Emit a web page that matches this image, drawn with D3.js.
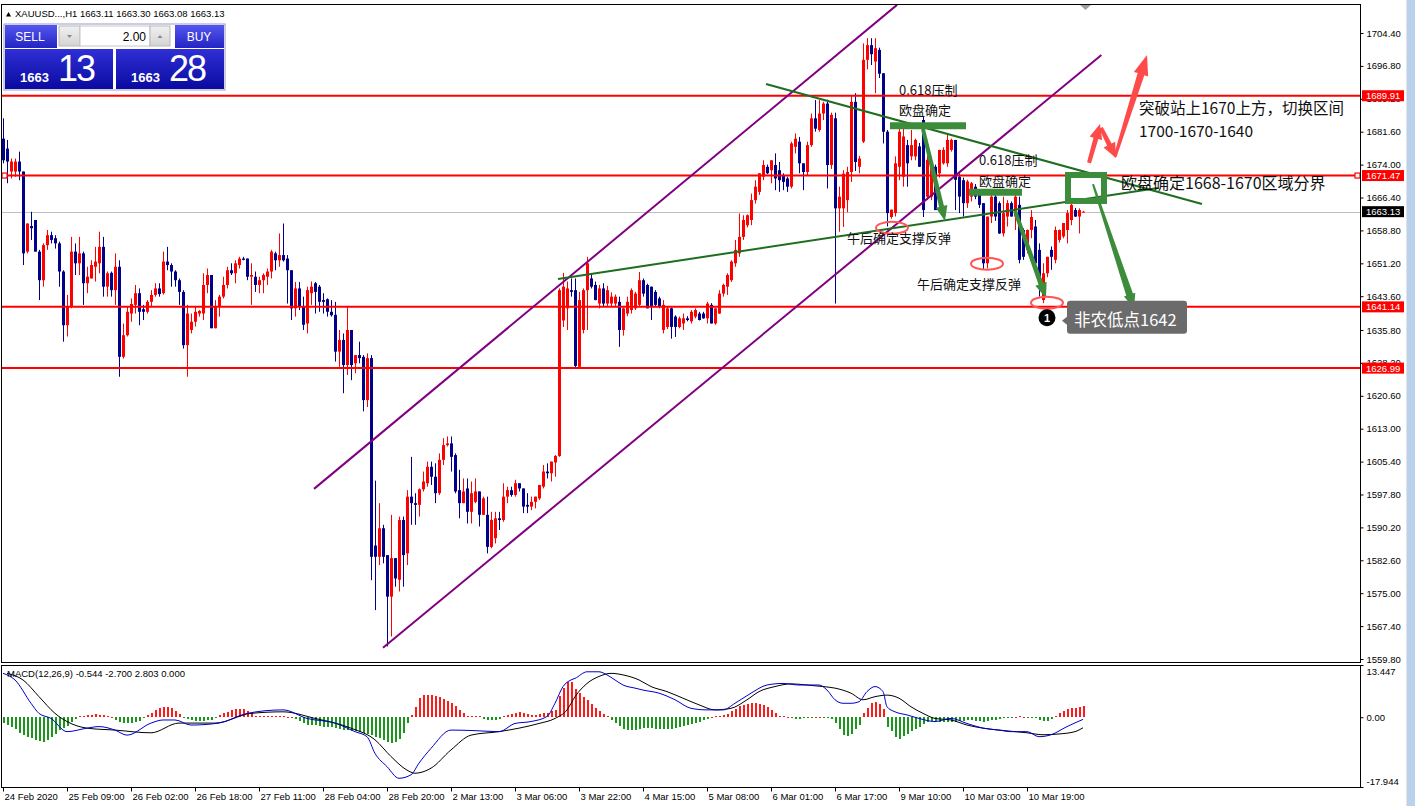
<!DOCTYPE html>
<html><head><meta charset="utf-8">
<script src="https://cdn.jsdelivr.net/npm/d3@7"></script>
<style>html,body{margin:0;padding:0;background:#fff;}svg{display:block;}</style>
</head><body>
<svg id="c" width="1415" height="806"></svg>
<script>
// ---------------- DATA ----------------
// hourly bars [open, high, low, close]
const ohlc = [
[1680.0,1684.7,1674.3,1675.0],[1677.7,1679.7,1669.7,1674.7],[1672.4,1675.4,1670.8,1674.7],[1672.4,1675.4,1671.2,1674.7],[1674.7,1677.0,1670.4,1672.4],
[1672.4,1672.4,1650.8,1653.5],[1653.9,1660.4,1653.5,1660.4],[1659.8,1663.1,1656.6,1659.3],[1661.2,1661.2,1653.9,1653.9],[1653.9,1654.3,1642.7,1647.3],
[1647.3,1655.8,1645.8,1655.4],[1655.4,1658.9,1654.3,1657.7],[1657.7,1658.5,1655.8,1656.6],[1657.0,1657.7,1654.6,1655.8],[1655.8,1656.2,1645.8,1649.3],
[1649.3,1649.6,1633.1,1636.9],[1636.9,1643.9,1634.3,1641.2],[1641.2,1657.3,1640.8,1653.9],[1653.9,1655.8,1648.5,1651.2],[1651.2,1657.3,1648.5,1653.5],
[1653.5,1653.9,1641.6,1646.6],[1646.6,1650.4,1644.3,1648.1],[1647.7,1651.9,1647.7,1650.8],[1650.4,1655.0,1647.0,1651.6],[1651.2,1658.5,1648.9,1655.0],
[1655.0,1657.3,1643.5,1645.8],[1645.8,1649.3,1643.5,1648.9],[1649.0,1649.3,1643.5,1645.0],[1645.0,1653.5,1641.6,1650.4],[1650.4,1651.9,1625.0,1629.6],
[1629.6,1637.3,1629.2,1634.6],[1634.6,1641.2,1634.3,1640.0],[1639.6,1643.1,1637.7,1641.8],[1641.6,1646.2,1639.6,1644.3],[1644.3,1645.4,1636.9,1640.0],
[1640.6,1641.6,1638.1,1640.0],[1640.0,1642.7,1639.6,1642.3],[1642.3,1645.0,1641.2,1643.9],[1643.9,1646.6,1643.5,1645.4],[1645.4,1646.6,1643.5,1644.1],
[1644.3,1653.9,1644.0,1651.6],[1651.6,1655.0,1649.6,1650.8],[1650.8,1651.2,1645.8,1649.3],[1649.3,1649.6,1645.8,1647.3],[1647.3,1647.7,1641.6,1644.6],
[1644.6,1645.0,1631.5,1632.3],[1632.3,1641.6,1625.0,1639.6],[1635.8,1639.6,1635.0,1637.7],[1637.7,1641.2,1636.6,1640.0],[1639.6,1640.4,1638.9,1640.2],
[1639.6,1648.9,1638.1,1646.2],[1646.2,1650.0,1644.3,1648.5],[1648.5,1648.5,1636.2,1636.2],[1636.2,1642.7,1636.2,1641.2],[1641.2,1643.9,1638.9,1643.5],
[1643.5,1648.1,1643.1,1646.2],[1646.2,1650.4,1645.4,1649.6],[1649.6,1651.2,1648.5,1648.9],[1648.9,1651.9,1646.6,1651.2],[1650.8,1652.7,1650.0,1652.3],
[1652.3,1652.7,1651.9,1652.0],[1652.3,1652.3,1647.3,1648.1],[1648.1,1651.2,1641.6,1648.5],[1648.1,1649.3,1644.6,1646.2],[1646.2,1648.1,1644.3,1647.3],
[1647.3,1648.9,1644.3,1648.5],[1648.1,1650.0,1646.2,1649.3],[1649.3,1654.3,1647.7,1653.9],[1653.5,1653.9,1649.6,1651.9],[1651.9,1658.1,1650.4,1653.1],
[1653.1,1660.4,1651.6,1651.9],[1652.3,1653.1,1641.9,1649.6],[1649.6,1649.6,1638.1,1640.8],[1640.8,1646.9,1638.9,1645.4],[1645.4,1646.9,1640.4,1641.2],
[1641.2,1643.5,1635.8,1637.0],[1637.3,1645.8,1635.0,1645.0],[1644.3,1647.0,1641.6,1645.8],[1646.6,1646.9,1639.6,1644.6],[1645.8,1646.2,1640.0,1642.3],
[1642.7,1644.3,1639.6,1642.3],[1642.9,1643.1,1638.9,1640.0],[1640.0,1642.7,1638.9,1639.2],[1639.3,1642.3,1628.5,1630.8],[1630.8,1635.8,1627.3,1633.5],
[1633.5,1635.0,1621.2,1627.7],[1627.7,1641.2,1625.4,1635.8],[1635.8,1635.8,1624.2,1627.7],[1628.1,1630.0,1625.8,1630.0],[1630.0,1633.1,1628.1,1629.3],
[1629.6,1630.0,1617.0,1619.6],[1619.6,1630.4,1618.0,1629.3],[1629.3,1630.0,1578.0,1583.4],[1586.0,1601.0,1571.1,1583.4],[1583.4,1595.8,1581.5,1590.0],
[1590.0,1590.8,1581.9,1583.4],[1583.8,1583.8,1562.7,1574.2],[1574.2,1593.1,1565.0,1583.1],[1583.1,1583.1,1576.5,1578.4],[1578.1,1592.7,1575.4,1591.9],
[1591.9,1592.7,1576.5,1583.8],[1584.2,1598.8,1581.5,1597.3],[1597.3,1606.5,1590.8,1595.8],[1595.8,1598.1,1590.8,1595.4],[1595.4,1599.2,1592.7,1599.0],
[1599.0,1603.1,1598.5,1600.8],[1600.4,1605.4,1599.6,1604.2],[1604.2,1605.4,1600.0,1601.9],[1601.9,1605.0,1595.8,1598.1],[1598.1,1607.3,1597.7,1605.8],
[1605.8,1610.8,1604.6,1609.2],[1609.2,1611.2,1608.9,1609.6],[1609.6,1611.2,1603.1,1606.5],[1606.9,1607.3,1598.1,1598.5],[1598.8,1603.5,1592.3,1595.8],
[1595.8,1601.5,1595.8,1598.5],[1599.2,1601.5,1591.1,1593.8],[1593.8,1600.8,1591.1,1598.1],[1596.1,1601.5,1595.8,1598.5],[1598.5,1598.5,1590.4,1593.1],
[1593.1,1597.3,1593.1,1596.9],[1593.1,1597.3,1584.2,1585.7],[1585.7,1593.8,1585.4,1591.9],[1587.7,1593.8,1586.5,1592.3],[1592.3,1593.8,1589.6,1591.9],
[1591.9,1600.4,1591.5,1597.3],[1597.3,1599.6,1595.8,1598.8],[1598.8,1599.6,1597.3,1597.7],[1597.7,1601.2,1597.3,1600.4],[1600.4,1600.4,1598.5,1599.2],
[1599.2,1599.2,1593.5,1595.0],[1595.4,1598.1,1593.5,1595.0],[1595.0,1597.3,1594.2,1596.1],[1596.1,1597.3,1594.6,1597.3],[1596.9,1600.0,1596.5,1600.0],
[1599.6,1604.6,1599.2,1603.1],[1603.1,1605.0,1601.5,1602.7],[1602.7,1605.4,1600.8,1605.4],[1605.2,1606.9,1601.9,1606.7],[1606.7,1645.4,1606.5,1645.0],
[1638.0,1649.0,1636.5,1645.8],[1640.8,1647.0,1635.8,1645.4],[1645.0,1647.7,1643.5,1644.6],[1645.0,1647.7,1626.9,1627.5],[1627.3,1644.6,1626.9,1642.7],
[1635.8,1645.4,1635.0,1645.0],[1645.0,1652.7,1635.8,1651.2],[1647.7,1648.9,1645.4,1645.8],[1646.2,1647.0,1642.7,1642.7],[1641.9,1646.2,1640.8,1645.4],
[1645.4,1646.6,1641.2,1641.9],[1641.9,1646.0,1641.2,1645.0],[1641.9,1644.5,1641.2,1643.5],[1641.9,1644.0,1641.2,1643.5],[1642.3,1643.5,1631.9,1635.8],
[1635.8,1641.0,1634.5,1640.8],[1639.6,1643.5,1639.0,1642.3],[1640.4,1645.4,1639.6,1645.0],[1640.8,1644.6,1640.4,1644.2],[1641.6,1649.2,1641.2,1647.3],
[1647.3,1647.7,1643.5,1644.2],[1646.2,1646.5,1640.8,1640.8],[1645.8,1645.8,1638.1,1641.2],[1644.6,1645.0,1641.2,1641.6],[1643.1,1643.5,1640.8,1641.2],
[1635.8,1642.7,1635.0,1641.6],[1636.5,1641.2,1636.0,1640.8],[1640.8,1641.0,1633.8,1636.5],[1638.9,1639.2,1634.2,1636.5],[1636.5,1638.9,1636.2,1638.5],
[1637.3,1639.6,1635.8,1638.5],[1638.5,1639.0,1637.8,1638.1],[1637.8,1640.4,1637.3,1640.0],[1638.9,1640.8,1638.5,1640.4],[1639.6,1640.0,1638.0,1638.1],
[1639.6,1640.0,1638.4,1638.5],[1638.5,1642.3,1637.3,1641.9],[1641.6,1642.0,1637.3,1637.3],[1637.3,1640.8,1637.0,1640.8],[1639.6,1645.0,1639.5,1644.2],
[1644.2,1646.5,1643.5,1646.2],[1645.8,1648.9,1643.9,1648.5],[1647.3,1651.9,1646.9,1651.6],[1651.2,1656.6,1650.4,1654.3],[1653.5,1662.7,1652.7,1657.3],
[1657.3,1662.3,1656.6,1661.2],[1660.0,1662.5,1659.5,1662.3],[1661.2,1667.3,1660.0,1665.8],[1665.8,1670.4,1665.0,1668.9],[1667.7,1672.0,1667.0,1672.0],
[1671.2,1675.0,1670.4,1673.9],[1673.5,1674.0,1671.8,1672.0],[1672.7,1675.0,1669.7,1675.0],[1673.9,1676.6,1668.1,1670.8],[1672.7,1674.6,1667.7,1670.4],
[1671.6,1672.0,1668.1,1670.0],[1670.8,1671.2,1667.7,1668.9],[1668.9,1679.3,1668.5,1678.9],[1678.1,1681.2,1676.6,1680.0],[1679.3,1680.4,1672.0,1674.3],
[1674.3,1674.3,1668.1,1672.3],[1672.3,1679.3,1671.6,1678.5],[1678.5,1685.8,1678.1,1684.7],[1684.7,1688.9,1681.6,1682.3],[1682.0,1688.9,1681.6,1685.8],
[1685.8,1688.5,1684.3,1688.1],[1688.1,1689.0,1668.5,1673.9],[1673.9,1686.0,1673.0,1685.5],[1684.7,1686.0,1641.9,1663.9],[1663.9,1668.9,1658.5,1666.6],
[1663.9,1672.7,1659.6,1671.9],[1665.8,1673.5,1663.0,1672.3],[1672.3,1690.0,1670.0,1688.5],[1688.5,1690.5,1672.5,1674.6],[1673.5,1676.0,1672.0,1675.4],
[1679.3,1702.0,1679.0,1698.2],[1698.2,1703.2,1696.0,1701.6],[1701.6,1703.2,1697.0,1699.5],[1697.8,1703.2,1690.5,1700.9],[1700.5,1701.0,1694.0,1695.0],
[1695.1,1695.1,1678.9,1681.6],[1681.6,1682.0,1659.7,1662.8],[1661.9,1663.6,1661.5,1663.6],[1662.8,1675.9,1662.0,1674.3],[1673.5,1682.8,1670.4,1681.6],
[1671.2,1682.8,1668.9,1680.5],[1678.5,1679.7,1668.9,1674.3],[1675.9,1682.0,1675.0,1678.5],[1675.9,1680.0,1675.0,1679.7],[1678.2,1679.0,1673.5,1673.5],
[1684.3,1685.0,1661.9,1663.5],[1666.6,1676.0,1665.8,1675.1],[1666.6,1675.9,1665.8,1674.3],[1673.5,1674.0,1663.5,1663.5],[1672.0,1677.4,1671.0,1677.4],
[1674.3,1678.0,1674.0,1677.4],[1674.3,1681.2,1673.5,1679.7],[1677.4,1680.0,1677.0,1679.7],[1679.7,1679.7,1663.5,1670.5],[1671.2,1672.0,1662.8,1666.6],
[1670.4,1671.0,1662.0,1665.1],[1665.1,1670.5,1664.0,1670.1],[1666.6,1670.0,1665.5,1669.7],[1668.9,1669.5,1666.0,1666.6],[1667.4,1668.0,1664.0,1664.7],
[1665.1,1665.1,1649.7,1651.2],[1651.2,1662.0,1650.0,1662.0],[1662.0,1667.4,1660.5,1666.6],[1666.6,1667.0,1661.0,1662.0],[1665.1,1665.5,1658.0,1658.1],
[1658.1,1666.6,1657.4,1662.8],[1662.0,1665.8,1659.7,1665.1],[1665.1,1665.5,1662.0,1662.0],[1662.0,1667.4,1658.9,1666.6],[1664.7,1666.6,1651.2,1652.0],
[1658.9,1659.3,1652.0,1652.7],[1654.3,1659.0,1653.5,1658.9],[1658.9,1663.5,1657.0,1661.9],[1659.7,1661.2,1650.4,1651.2],[1654.3,1655.8,1643.5,1646.6],
[1642.7,1651.2,1642.0,1648.9],[1648.9,1652.7,1648.0,1652.7],[1654.3,1655.1,1649.7,1652.7],[1652.0,1659.7,1651.2,1658.9],[1656.6,1659.0,1656.0,1658.9],
[1657.4,1660.5,1657.0,1660.5],[1658.9,1663.5,1655.8,1662.8],[1661.2,1665.1,1660.0,1664.7],[1663.5,1664.0,1661.9,1662.0],[1662.0,1663.9,1658.1,1663.5],
[1663.11,1663.30,1663.08,1663.13]
];

// MACD histogram per bar
const macdHist = [
-1.5,-2,-2.5,-3,-4,-4.5,-5,-5.4,-5.8,-6.2,-6.3,-5.8,-5,-4.2,-3.4,-2.8,-2.2,
-1.2,-0.5,0.3,0.4,0.5,0.6,0.9,0.7,0.5,0.3,0.1,
-0.8,-1.2,-1.5,-1.6,-1.5,-1.3,-1.0,-0.3,
0.6,1.2,1.8,2.3,2.6,2.6,2.4,1.6,0.8,
-0.3,-0.5,-0.7,-0.9,-1.0,-0.9,-0.8,-0.6,-0.3,
0.5,1.0,1.4,1.9,2.2,2.2,2.0,1.6,1.0,
0.4,0.3,0.2,0.2,0.3,0.3,0.2,0.2,0.1,0.1,
-0.4,-0.9,-1.4,-1.9,-2.1,-2.0,-2.2,-2.4,-2.5,-2.6,-2.8,-3.0,-3.2,-3.3,-3.5,-3.6,-3.8,-4.0,-4.3,-4.6,-5.0,-5.4,-5.8,-6.3,-6.6,-6.4,-5.5,-4.0,
-1.5,
0.6,2.7,4.9,5.7,5.7,5.6,5.5,5.3,4.8,4.2,3.6,2.8,1.9,1.1,
0.4,0.3,0.2,0.2,
-0.5,-0.8,-0.8,-0.7,-0.5,
0.3,0.6,0.9,1.2,1.3,1.1,0.9,0.7,0.6,0.8,1.0,1.2,1.5,
1.8,5.5,7.5,9.0,9.0,7.2,6.2,5.2,4.4,3.5,2.5,1.5,
0.8,0.2,
-0.8,-1.6,-2.3,-2.9,-3.3,-3.4,-3.3,-3.0,-2.8,-2.7,-2.8,-2.9,-3.0,-3.0,-3.0,-2.9,-2.7,-2.5,-2.2,-2.0,-1.7,-1.4,-1.1,-0.8,-0.5,
0.1,0.2,0.3,0.5,
0.8,1.5,2.2,2.8,3.2,3.5,3.6,3.6,3.5,3.2,2.6,1.8,1.0,
0.3,0.2,0.1,-0.2,-0.4,-0.5,-0.3,-0.2,-0.1,0.1,0.1,-0.2,-0.3,-0.5,
-1.5,-3.0,-4.5,-4.9,-4.2,-3.0,-2.0,
1.0,2.5,3.6,4.0,3.5,2.0,
-2.5,-3.5,-5.2,-5.7,-4.8,-4.3,-3.6,-3.0,-2.5,-1.8,
-1.2,-1.0,-1.0,-1.1,-1.2,-1.3,-1.2,-1.1,-1.0,-0.9,-0.8,-0.8,-0.9,-1.0,-1.1,-1.0,-0.8,-0.6,-0.4,-0.3,
-0.2,-0.1,0.1,0.2,0.1,-0.1,-0.2,-0.3,
-0.8,-1.0,-0.9,-0.5,
0.4,1.0,1.5,2.0,2.3,2.5,2.6,2.803
];
// MACD main line (blue), read at these bars
const macdIdx = [0,3,7,9,12,16,21,24,28,31,37,40,43,47,54,61,70,76,83,88,91,93,96,99,102,104,107,112,117,124,128,132,136,138,140,142,143,146,149,151,153,155,158,160,164,168,172,176,180,183,187,191,195,199,204,206,208,210,212,214,216,218,220,221,223,226,229,233,237,241,245,249,252,256,259,262,266,270];
const macdMain = [11.3,9.6,3.6,1.0,-0.3,-3.7,-2.8,-2.4,-3.3,-4.6,-1.5,-0.7,-0.7,-2.0,-1.5,1.0,1.9,-0.3,-1.5,-3.7,-5.0,-9.3,-12.7,-15.7,-14.8,-11.8,-8.0,-3.3,-3.4,-3.7,-1.6,-1.1,0.2,3.6,7.9,9.6,10.0,11.7,11.7,10.9,9.6,8.3,7.5,7.0,6.2,4.5,2.3,1.9,1.9,3.6,6.2,8.3,8.7,8.3,8.3,7.0,4.5,3.6,3.6,4.0,6.6,7.9,6.6,2.7,1.4,0.6,-0.3,-1.1,-0.3,-1.6,-2.8,-3.3,-3.7,-3.7,-5.0,-4.5,-2.4,-0.544];
// signal line (black)
const sigIdx = [1,5,9,13,16,21,28,37,44,53,62,70,78,87,93,97,101,103,107,112,117,124,129,134,138,141,143,146,149,152,155,159,162,166,170,174,178,182,186,189,193,197,201,205,208,212,215,218,221,224,227,230,233,237,241,245,249,253,256,260,264,268,270];
const sigVals = [11.3,9.6,5.3,1.0,-1.1,-2.8,-3.3,-4.0,-1.5,-1.5,1.0,1.4,-0.3,-2.8,-5.8,-10.1,-13.6,-14.4,-13.1,-8.4,-4.6,-3.7,-2.8,-1.6,-0.3,1.9,5.3,8.7,10.5,11.3,10.9,9.6,7.9,6.6,4.9,3.2,1.9,2.3,4.5,6.6,7.9,8.6,8.3,7.9,7.5,6.2,4.5,5.3,5.7,4.9,2.7,1.0,-0.3,-0.7,-2.0,-2.8,-3.3,-3.7,-4.0,-4.5,-4.3,-3.7,-2.7];

const priceTicks = [1704.4,1696.8,1689.2,1681.6,1674.0,1666.4,1658.8,1651.2,1643.6,1635.8,1628.2,1620.6,1613.0,1605.4,1597.8,1590.2,1582.6,1575.0,1567.4,1559.8];
const levels = [1689.91,1671.47,1641.14,1626.99];
const lastPrice = 1663.13;
const macdTicks = [13.447,0,-17.944];
const macdTickLabels = ["13.447","0.00","-17.944"];
const timeIdx = [0,16,32,48,64,80,96,112,128,144,160,176,192,208,224,240,256];
const timeLabels = ["24 Feb 2020","25 Feb 09:00","26 Feb 02:00","26 Feb 18:00","27 Feb 11:00","28 Feb 04:00","28 Feb 20:00","2 Mar 13:00","3 Mar 06:00","3 Mar 22:00","4 Mar 15:00","5 Mar 08:00","6 Mar 01:00","6 Mar 17:00","9 Mar 10:00","10 Mar 03:00","10 Mar 19:00"];

// drawn objects, anchored at [bar index, price]
const channelUpper = [[77.75,1599.1],[223.5,1710.9]];
const channelLower = [[95,1562.4],[274.6,1699.3]];
const supportLine = [[138.75,1647.6],[288.75,1668.6]];
const resistLine = [[190.75,1692.6],[299.75,1664.9]];
const greenBars = [[221.75,240.75,1683.0],[241.5,254.75,1667.6]];
const greenArrows = [[230,1682.2,235.5,1661.0],[253,1663.3,260.75,1643.2],[272.5,1669.5,282.75,1640.9]];
const greenBox = [266.25,1671.6,275.25,1665.6];
const redArrows = [[271.5,1674.4,274.25,1683.4],[274.5,1682.5,278.25,1675.5],[278,1675.8,286,1699.3]];
const ellipses = [[222.25,1659.4],[246,1651.1],[261,1642.1]];
const noteTexts = ["0.618压制","欧盘确定","0.618压制","欧盘确定","午后确定支撑反弹","午后确定支撑反弹","突破站上1670上方，切换区间","1700-1670-1640","欧盘确定1668-1670区域分界"];
const noteIdx = [224,224,244,244,211,228.5,284,284,279.5];
const notePrice = [1690.0,1685.4,1673.9,1669.1,1655.8,1645.3,1685.7,1680.4,1668.4];
const lowLabel = "非农低点1642";
const lowPoint = [261,1642.1];

// ---------------- DRAW ----------------
const svg = d3.select("#c");
const L=1.5, R=1360.5, T=4.5, B=662.5, MT=665.5, MB=787.5;
const UI = "'Liberation Sans', Arial, sans-serif";
const CJK = "'Noto Sans CJK SC', sans-serif";
const RED="#ff0000", BLUE="#00008b";

const x = d3.scaleLinear().domain([0,270]).range([3,1083]);
const y = d3.scaleLinear().domain([1559.8,1704.4]).range([659,33]);
const ym = d3.scaleLinear().domain([-17.944,13.447]).range([787,665]);
const px = d=>x(d[0]), py = d=>y(d[1]);

const defs = svg.append("defs");
defs.append("clipPath").attr("id","cm").append("rect").attr("x",2).attr("y",5).attr("width",1358).attr("height",657);
defs.append("clipPath").attr("id","cd").append("rect").attr("x",2).attr("y",666).attr("width",1358).attr("height",121);
const g1 = defs.append("linearGradient").attr("id","gBtn").attr("x1",0).attr("y1",0).attr("x2",0).attr("y2",1);
g1.append("stop").attr("offset","0%").attr("stop-color","#5555ee");
g1.append("stop").attr("offset","100%").attr("stop-color","#2424c4");
const g2 = defs.append("linearGradient").attr("id","gPx").attr("x1",0).attr("y1",0).attr("x2",0).attr("y2",1);
g2.append("stop").attr("offset","0%").attr("stop-color","#2f2fd6");
g2.append("stop").attr("offset","100%").attr("stop-color","#0a0aa0");
const g3 = defs.append("linearGradient").attr("id","gGray").attr("x1",0).attr("y1",0).attr("x2",0).attr("y2",1);
g3.append("stop").attr("offset","0%").attr("stop-color","#f0f0f0");
g3.append("stop").attr("offset","100%").attr("stop-color","#d4d4d4");

svg.append("rect").attr("width",1415).attr("height",806).attr("fill","#fff");
svg.append("rect").attr("x",1407).attr("y",0).attr("width",8).attr("height",806).attr("fill","#b9d1ea");
svg.append("line").attr("x1",1406.5).attr("x2",1406.5).attr("y1",0).attr("y2",806).attr("stroke","#e3e3e3");

const main = svg.append("g").attr("clip-path","url(#cm)");
main.append("line").attr("x1",2).attr("x2",R).attr("y1",Math.round(y(lastPrice))+0.5).attr("y2",Math.round(y(lastPrice))+0.5).attr("stroke","#c0c0c0");

// candles
const cg = main.append("g");
cg.selectAll("rect.wk").data(ohlc).join("rect").attr("class","wk")
  .attr("x",(d,i)=>x(i)).attr("width",1)
  .attr("y",d=>y(d[1])).attr("height",d=>Math.max(1,y(d[2])-y(d[1])))
  .style("fill",d=>d[3]>=d[0]?RED:BLUE);
cg.selectAll("rect.bd").data(ohlc).join("rect").attr("class","bd")
  .attr("x",(d,i)=>x(i)-1).attr("width",3)
  .attr("y",d=>y(Math.max(d[0],d[3])))
  .attr("height",d=>Math.max(1,Math.abs(y(d[0])-y(d[3]))))
  .style("fill",d=>d[3]>=d[0]?RED:BLUE);

// horizontal levels
main.selectAll("line.lv").data(levels).join("line").attr("class","lv")
  .attr("x1",2).attr("x2",R).attr("y1",d=>y(d)).attr("y2",d=>y(d))
  .attr("stroke",RED).attr("stroke-width",2);
[4.5,1357.5].forEach(cx=>{
  main.append("rect").attr("x",cx-2.5).attr("y",y(levels[1])-2.5).attr("width",5).attr("height",5)
   .attr("fill","#fff").attr("stroke",RED).attr("stroke-width",1.2);
});

// trend lines
const ln = d3.line().x(px).y(py);
main.append("path").attr("d",ln(channelUpper)).attr("stroke","#800080").attr("stroke-width",2).attr("fill","none");
main.append("path").attr("d",ln(channelLower)).attr("stroke","#800080").attr("stroke-width",2).attr("fill","none");
main.append("path").attr("d",ln(supportLine)).attr("stroke","#1f6e1f").attr("stroke-width",2).attr("fill","none");
main.append("path").attr("d",ln(resistLine)).attr("stroke","#1f6e1f").attr("stroke-width",2).attr("fill","none");

main.selectAll("line.gb").data(greenBars).join("line").attr("class","gb")
  .attr("x1",d=>x(d[0])).attr("x2",d=>x(d[1])).attr("y1",d=>y(d[2])).attr("y2",d=>y(d[2]))
  .attr("stroke","#3c8c3c").attr("stroke-width",7);

function arrowPoly(x1,y1,x2,y2,w1,w2,hw,hl){
  const dx=x2-x1, dy=y2-y1, len=Math.hypot(dx,dy), ux=dx/len, uy=dy/len, nx=-uy, ny=ux;
  const bx=x2-ux*hl, by=y2-uy*hl;
  return [[x1+nx*w1/2,y1+ny*w1/2],[bx+nx*w2/2,by+ny*w2/2],[bx+nx*hw/2,by+ny*hw/2],[x2,y2],
          [bx-nx*hw/2,by-ny*hw/2],[bx-nx*w2/2,by-ny*w2/2],[x1-nx*w1/2,y1-ny*w1/2]];
}
const poly = d3.line();
greenArrows.forEach((a,i)=>{
  const p = i<2 ? arrowPoly(x(a[0]),y(a[1]),x(a[2]),y(a[3]),4,5,12,15)
                : arrowPoly(x(a[0]),y(a[1]),x(a[2]),y(a[3]),2,7,12,14);
  main.append("path").attr("d",poly(p)+"Z").attr("fill","#3c8c3c");
});
main.append("rect").attr("x",x(greenBox[0])).attr("y",y(greenBox[1]))
  .attr("width",x(greenBox[2])-x(greenBox[0])).attr("height",y(greenBox[3])-y(greenBox[1]))
  .attr("fill","none").attr("stroke","#3c8c3c").attr("stroke-width",6);
redArrows.forEach((a,i)=>{
  const p = i<2 ? arrowPoly(x(a[0]),y(a[1]),x(a[2]),y(a[3]),4,5,13,15)
                : arrowPoly(x(a[0]),y(a[1]),x(a[2]),y(a[3]),3,7,15,20);
  main.append("path").attr("d",poly(p)+"Z").attr("fill","#ff4a4a");
});
main.selectAll("ellipse").data(ellipses).join("ellipse")
  .attr("cx",px).attr("cy",py).attr("rx",16).attr("ry",6)
  .attr("fill","none").attr("stroke","#ff5555").attr("stroke-width",2);

const noteSize = [13,13,13,13,13,13,15.5,15.5,16];
main.selectAll("text.nt").data(noteTexts).join("text").attr("class","nt")
  .attr("x",(d,i)=>x(noteIdx[i])).attr("y",(d,i)=>y(notePrice[i]))
  .attr("font-family",CJK).attr("font-size",(d,i)=>noteSize[i]).attr("fill","#111").text(d=>d);

const lx = x(lowPoint[0]), lyy = y(lowPoint[1]);
main.append("path").attr("d",poly([[lx+20,lyy+14],[lx+15,lyy+18],[lx+20,lyy+22]])+"Z").attr("fill","#6b6b6b");
main.append("rect").attr("x",lx+20).attr("y",lyy-2).attr("width",120).attr("height",33).attr("rx",3).attr("fill","#6b6b6b");
main.append("text").attr("x",lx+27).attr("y",lyy+23).attr("font-family",CJK).attr("font-size",16.5).attr("fill","#fff").text(lowLabel);
main.append("circle").attr("cx",lx).attr("cy",lyy+15).attr("r",8.5).attr("fill","#000");
main.append("text").attr("x",lx).attr("y",lyy+19).attr("text-anchor","middle").attr("font-family",UI).attr("font-weight","bold").attr("font-size",11).attr("fill","#fff").text("1");

svg.append("path").attr("d","M1080,5L1091,5L1085.5,10Z").attr("fill","#a0a0a0");

// ---------- MACD ----------
const md = svg.append("g").attr("clip-path","url(#cd)");
md.selectAll("rect.hb").data(macdHist).join("rect").attr("class","hb")
  .attr("x",(d,i)=>x(i)).attr("width",2)
  .attr("y",d=>Math.min(ym(0),ym(d))).attr("height",d=>Math.max(1,Math.abs(ym(d)-ym(0))))
  .attr("shape-rendering","crispEdges")
  .attr("fill",d=>d>=0?"#ff1a1a":"#1a961a");
const mline = d3.line().x(d=>x(d[0])).y(d=>ym(d[1])).curve(d3.curveMonotoneX);
md.append("path").attr("d",mline(sigIdx.map((k,i)=>[k,sigVals[i]]))).attr("fill","none").attr("stroke","#000").attr("stroke-width",1);
md.append("path").attr("d",mline(macdIdx.map((k,i)=>[k,macdMain[i]]))).attr("fill","none").attr("stroke","#0000cc").attr("stroke-width",1);
svg.append("text").attr("x",7).attr("y",677).attr("font-family",UI).attr("font-size",9.5).attr("fill","#000")
  .text("MACD(12,26,9) -0.544 -2.700 2.803 0.000");

// ---------- frames ----------
const fr = svg.append("g").attr("fill","none").attr("stroke","#000").attr("stroke-width",1);
fr.append("rect").attr("x",L).attr("y",T).attr("width",R-L).attr("height",B-T);
fr.append("rect").attr("x",L).attr("y",MT).attr("width",R-L).attr("height",MB-MT);

// ---------- axes ----------
const ay = svg.append("g").attr("transform",`translate(${R},0)`)
  .call(d3.axisRight(y).tickValues(priceTicks).tickSize(3).tickPadding(3).tickFormat(d=>d.toFixed(2)));
ay.select(".domain").remove();
ay.selectAll("text").attr("font-family",UI).attr("font-size",9.5).attr("fill","#000");
const lvG = svg.append("g");
levels.forEach(v=>{
  lvG.append("rect").attr("x",1362).attr("y",y(v)-5.5).attr("width",42).attr("height",11).attr("fill",RED);
  lvG.append("text").attr("x",1366).attr("y",y(v)+3.5).attr("font-family",UI).attr("font-size",9.5).attr("fill","#fff").text(v.toFixed(2));
});
lvG.append("rect").attr("x",1362).attr("y",y(lastPrice)-5.5).attr("width",42).attr("height",11).attr("fill","#000");
lvG.append("text").attr("x",1366).attr("y",y(lastPrice)+3.5).attr("font-family",UI).attr("font-size",9.5).attr("fill","#fff").text(lastPrice.toFixed(2));

const am = svg.append("g").attr("transform",`translate(${R},0)`)
  .call(d3.axisRight(ym).tickValues(macdTicks).tickSize(3).tickPadding(3).tickFormat((d,i)=>macdTickLabels[i]));
am.select(".domain").remove();
am.selectAll("text").attr("font-family",UI).attr("font-size",9.5).attr("fill","#000")
  .attr("dy",(d,i)=>i===0?"1.0em":(i===2?"-0.3em":"0.32em"));

const ax = svg.append("g").attr("transform",`translate(0,${MB})`)
  .call(d3.axisBottom(x).tickValues(timeIdx).tickSize(4).tickPadding(2).tickFormat((d,i)=>timeLabels[i]));
ax.select(".domain").remove();
ax.selectAll("text").attr("text-anchor","start").attr("x",1).attr("font-family",UI).attr("font-size",9.5).attr("fill","#000");

// ---------- header ----------
svg.append("path").attr("d","M6,16.5L11,16.5L8.5,12Z").attr("fill","#000");
svg.append("text").attr("x",15).attr("y",17).attr("font-family",UI).attr("font-size",9.5).attr("fill","#000")
  .text("XAUUSD...,H1  1663.11 1663.30 1663.08 1663.13");

// ---------- one-click trading widget ----------
const w = svg.append("g");
w.append("rect").attr("x",4).attr("y",24).attr("width",221).attr("height",66).attr("fill","#fff").attr("stroke","#9a9ac8");
w.append("rect").attr("x",5).attr("y",25).attr("width",52).attr("height",23).attr("fill","url(#gBtn)");
w.append("rect").attr("x",175).attr("y",25).attr("width",49).attr("height",23).attr("fill","url(#gBtn)");
w.append("text").attr("x",30).attr("y",41).attr("text-anchor","middle").attr("font-family",UI).attr("font-size",12).attr("fill","#fff").text("SELL");
w.append("text").attr("x",199).attr("y",41).attr("text-anchor","middle").attr("font-family",UI).attr("font-size",12).attr("fill","#fff").text("BUY");
w.append("rect").attr("x",59).attr("y",26).attr("width",21).attr("height",20).attr("fill","url(#gGray)").attr("stroke","#b8b8b8");
w.append("rect").attr("x",80).attr("y",26).attr("width",70).attr("height",20).attr("fill","#fff").attr("stroke","#c8c8c8");
w.append("rect").attr("x",150).attr("y",26).attr("width",20).attr("height",20).attr("fill","url(#gGray)").attr("stroke","#b8b8b8");
w.append("path").attr("d","M67,35L72,35L69.5,38Z").attr("fill","#888");
w.append("path").attr("d","M157.5,38L162.5,38L160,35Z").attr("fill","#888");
w.append("text").attr("x",146).attr("y",41).attr("text-anchor","end").attr("font-family",UI).attr("font-size",12).attr("fill","#000").text("2.00");
w.append("rect").attr("x",5).attr("y",49).attr("width",108).attr("height",40).attr("fill","url(#gPx)");
w.append("rect").attr("x",116).attr("y",49).attr("width",108).attr("height",40).attr("fill","url(#gPx)");
w.append("text").attr("x",20).attr("y",82).attr("font-family",UI).attr("font-weight","bold").attr("font-size",13).attr("fill","#fff").text("1663");
w.append("text").attr("x",58).attr("y",81).attr("font-family",UI).attr("font-size",36).attr("letter-spacing","-2").attr("fill","#fff").text("13");
w.append("text").attr("x",131).attr("y",82).attr("font-family",UI).attr("font-weight","bold").attr("font-size",13).attr("fill","#fff").text("1663");
w.append("text").attr("x",169).attr("y",81).attr("font-family",UI).attr("font-size",36).attr("letter-spacing","-2").attr("fill","#fff").text("28");
</script>
</body></html>
